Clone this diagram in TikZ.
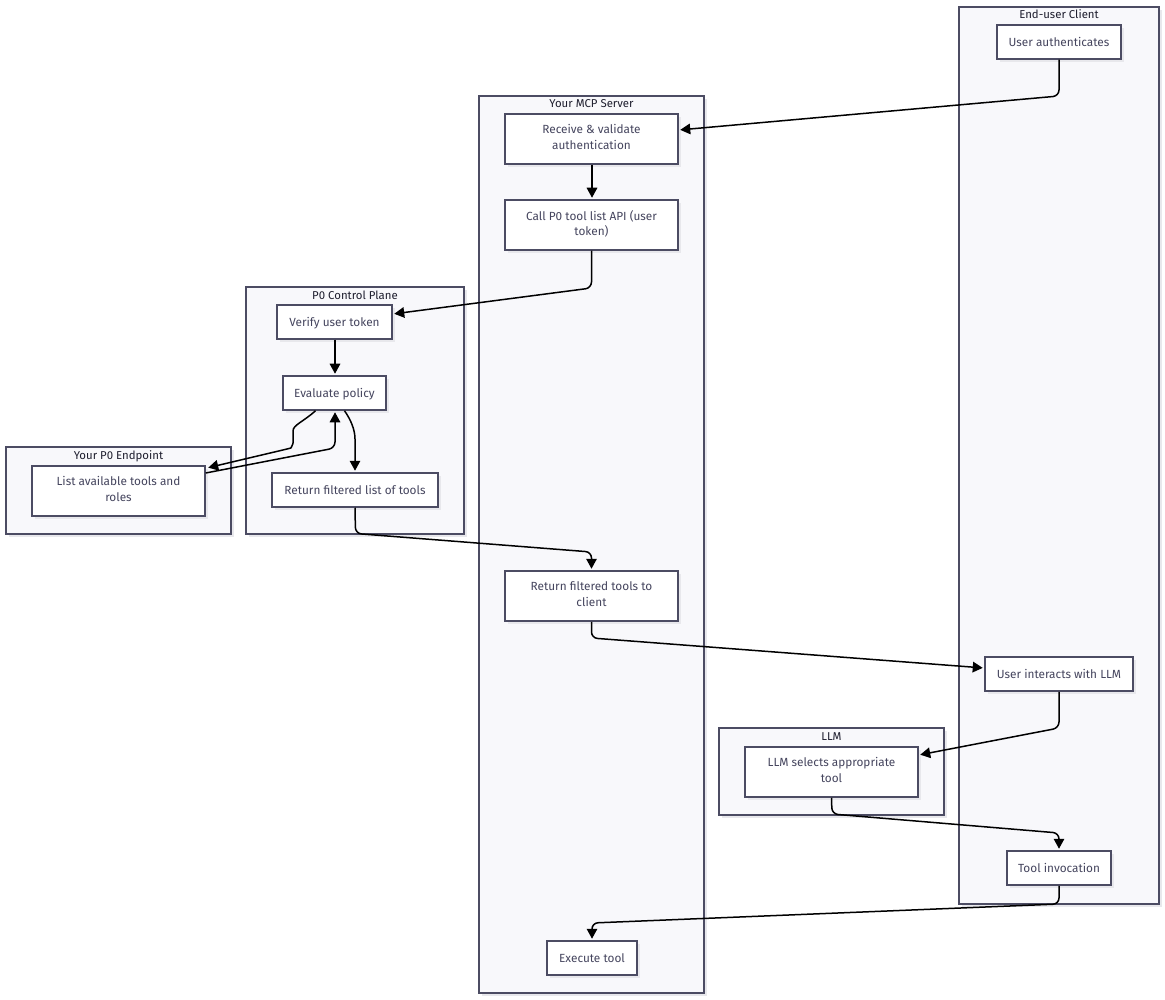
\documentclass[tikz,border=0pt]{standalone}
\usepackage{fontspec}
\setmainfont{Fira Sans}
\usetikzlibrary{arrows.meta,shadows,positioning}
\definecolor{grpfill}{HTML}{F8F8FB}
\definecolor{edgeln}{HTML}{4C4C63}
\definecolor{nodetxt}{HTML}{45455E}
\definecolor{titletxt}{HTML}{1E1E2E}
\definecolor{shadowc}{HTML}{E8E8EC}
\newcommand{\topfix}{\rule{0pt}{12.2pt}}
\newcommand{\toptwo}{\rule{0pt}{15pt}}
\newcommand{\botfix}{\rule[-4pt]{0pt}{4pt}}
\tikzset{
  basebox/.style={draw=edgeln,line width=1.5pt,rectangle,inner sep=0pt,anchor=center,
    drop shadow={shadow xshift=3pt,shadow yshift=-3pt,fill=shadowc,opacity=1}},
  grpbox/.style={basebox,fill=grpfill},
  stepbox/.style={basebox,fill=white,text=nodetxt,font=\fontsize{11.8}{15.5}\selectfont,align=center,
    execute at begin node=\topfix,execute at end node=\botfix},
  twobox/.style={basebox,fill=white,text=nodetxt,font=\fontsize{11.8}{15.5}\selectfont,align=center,
    execute at begin node=\toptwo,execute at end node=\botfix},
  grouptitle/.style={text=titletxt,font=\fontsize{11.4}{13}\selectfont,inner sep=0pt,anchor=center,
    execute at begin node=\topfix,execute at end node=\botfix},
  flow/.style={draw=black,line width=1.5pt,rounded corners=6pt,shorten >=1.5pt,
    -{Triangle[length=10pt,width=10.5pt]}},
}
\newcommand{\boxat}[6]{\node[#1,minimum width=#4pt,minimum height=#5pt] (#2) at (#3) {#6};}
\begin{document}
\begin{tikzpicture}[x=1pt,y=-1pt]
\useasboundingbox[fill=white] (0,0) rectangle (1165,1000);
% groups
\boxat{grpbox}{client}{1059,455.5}{200}{897}{}
\boxat{grpbox}{mcp}{591.5,544.5}{225}{897}{}
\boxat{grpbox}{plane}{355,410.5}{218}{247}{}
\boxat{grpbox}{endpoint}{118.5,490.5}{225}{87}{}
\boxat{grpbox}{llm}{831.5,771.5}{225}{87}{}
% titles
\node[grouptitle] (tclient) at (1059,14) {End-user Client};
\node[grouptitle] (tmcp) at (591.5,103.5) {Your MCP Server};
\node[grouptitle] (tplane) at (355,295) {P0 Control Plane};
\node[grouptitle] (tendpoint) at (118.5,455) {Your P0 Endpoint};
\node[grouptitle] (tllm) at (831.5,736) {LLM};
% steps
\boxat{stepbox}{auth}{1059,42}{124}{34}{User authenticates}
\boxat{twobox}{recv}{591.5,139}{173}{50}{Receive \& validate\\authentication}
\boxat{twobox}{call}{591.5,225}{173}{50}{Call P0 tool list API (user\\token)}
\boxat{stepbox}{verify}{334.5,322}{115}{34}{Verify user token}
\boxat{stepbox}{eval}{334.5,393}{103}{34}{Evaluate policy}
\boxat{twobox}{list}{118.5,491}{173}{50}{List available tools and\\roles}
\boxat{stepbox}{ret}{355,490}{166}{34}{Return filtered list of tools}
\boxat{twobox}{rett}{591.5,596}{173}{50}{Return filtered tools to\\client}
\boxat{stepbox}{inter}{1059,674}{148}{34}{User interacts with LLM}
\boxat{twobox}{sel}{831.5,772}{173}{50}{LLM selects appropriate\\tool}
\boxat{stepbox}{inv}{1059,868}{104}{34}{Tool invocation}
\boxat{stepbox}{exec}{592,958}{90}{34}{Execute tool}
% bends
\coordinate (b1) at (1059,96);
\coordinate (b2) at (591.5,288);
\coordinate (b3a) at (355.5,533.5);
\coordinate (b3b) at (591.5,552);
\coordinate (b4) at (591.5,638);
\coordinate (b5) at (1059,728);
\coordinate (b6a) at (832,814);
\coordinate (b6b) at (1059,833);
\coordinate (b7a) at (1059,904);
\coordinate (b7b) at (592,923);
\coordinate (b8) at (335,448);
% connectors
\draw[flow] (auth.south) -- (b1) -- ([yshift=9pt]recv.east);
\draw[flow] ([xshift=.5pt]recv.south) -- ([xshift=.5pt]call.north);
\draw[flow] (call.south) -- (b2) -- ([yshift=8pt]verify.east);
\draw[flow] ([xshift=.5pt]verify.south) -- ([xshift=.5pt]eval.north);
\draw[flow] ([xshift=-19pt]eval.south) .. controls (303,422) and (293,425) .. (293,437)
   .. controls (293,444) and (291,448) .. (285,449.5) -- ([yshift=23pt,xshift=1pt]list.east);
\draw[flow] ([yshift=18pt]list.east) -- (b8) -- ([xshift=0.5pt]eval.south);
\draw[flow] ([xshift=10pt]eval.south) .. controls (351,420) and (355,430) .. (355,445) -- (ret.north);
\draw[flow] (ret.south) -- (b3a) -- (b3b) -- (rett.north);
\draw[flow] (rett.south) -- (b4) -- ([yshift=6pt]inter.west);
\draw[flow] (inter.south) -- (b5) -- ([yshift=17pt]sel.east);
\draw[flow] (sel.south) -- (b6a) -- (b6b) -- (inv.north);
\draw[flow] (inv.south) -- (b7a) -- (b7b) -- (exec.north);
\end{tikzpicture}
\end{document}
